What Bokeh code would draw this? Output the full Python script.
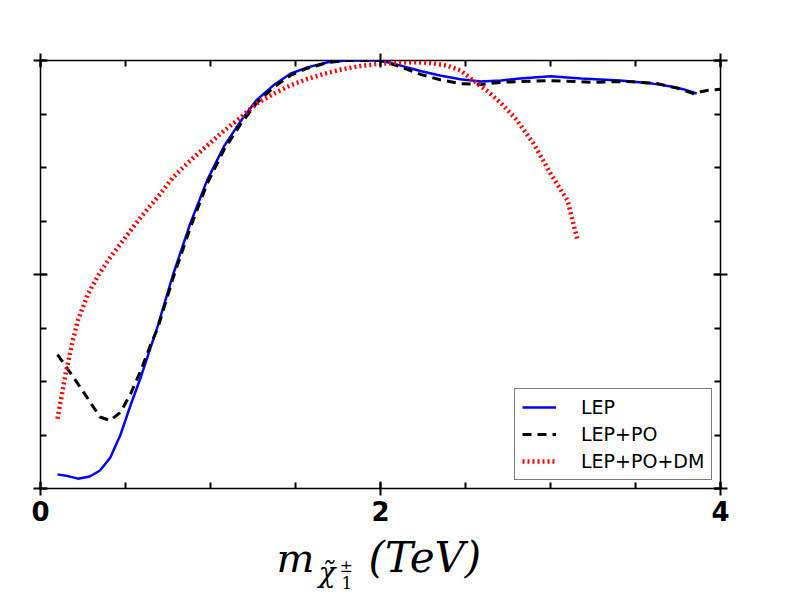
from bokeh.plotting import figure
from bokeh.models import (Range1d, LinearAxis, FixedTicker, Legend, LegendItem, Label)
from bokeh.layouts import column
from bokeh.embed import file_html
from bokeh.resources import INLINE

# ---- data ----
lep_x = [0.10, 0.15, 0.22, 0.29, 0.35, 0.41, 0.47, 0.53, 0.59, 0.69, 0.78, 0.88, 0.98, 1.08, 1.18,
         1.27, 1.37, 1.47, 1.57, 1.69, 1.80, 1.90, 2.00, 2.12, 2.24, 2.35, 2.47, 2.59, 2.71, 2.82,
         3.00, 3.18, 3.41, 3.60, 3.70, 3.78, 3.86]
lep_y = [0.033, 0.030, 0.023, 0.028, 0.042, 0.072, 0.125, 0.195, 0.260, 0.380, 0.500, 0.618, 0.720,
         0.800, 0.860, 0.907, 0.942, 0.969, 0.984, 0.996, 1.000, 1.000, 1.000, 0.988, 0.975, 0.965,
         0.956, 0.951, 0.953, 0.958, 0.963, 0.958, 0.953, 0.946, 0.940, 0.933, 0.923]

po_x = [0.10, 0.18, 0.26, 0.35, 0.41, 0.47, 0.53, 0.59, 0.65, 0.69, 0.78, 0.88, 0.98, 1.08, 1.18,
        1.27, 1.37, 1.47, 1.57, 1.69, 1.80, 1.90, 2.00, 2.12, 2.24, 2.35, 2.47, 2.59, 2.71, 2.82,
        3.00, 3.25, 3.45, 3.63, 3.75, 3.84, 3.92, 4.00]
po_y = [0.313, 0.268, 0.221, 0.167, 0.159, 0.178, 0.221, 0.276, 0.338, 0.375, 0.492, 0.608, 0.712,
        0.792, 0.853, 0.900, 0.937, 0.965, 0.982, 0.995, 1.000, 1.000, 1.000, 0.985, 0.967, 0.955,
        0.946, 0.944, 0.949, 0.951, 0.953, 0.949, 0.951, 0.946, 0.935, 0.923, 0.930, 0.933]

dm_x = [0.10, 0.15, 0.19, 0.22, 0.28, 0.34, 0.41, 0.50, 0.59, 0.69, 0.78, 0.88, 0.98, 1.08, 1.18,
        1.27, 1.37, 1.47, 1.57, 1.67, 1.77, 1.88, 1.98, 2.10, 2.22, 2.30, 2.39, 2.47, 2.55, 2.63,
        2.71, 2.80, 2.90, 3.00, 3.10, 3.16]
dm_y = [0.163, 0.272, 0.346, 0.393, 0.455, 0.498, 0.540, 0.587, 0.634, 0.681, 0.727, 0.766, 0.801,
        0.836, 0.868, 0.899, 0.922, 0.942, 0.957, 0.969, 0.979, 0.987, 0.992, 0.995, 0.996, 0.994,
        0.988, 0.977, 0.952, 0.928, 0.900, 0.862, 0.806, 0.736, 0.673, 0.579]

series_names = ["LEP", "LEP+PO", "LEP+PO+DM"]
x_major = [0, 2, 4]
x_minor = [0, 0.5, 1, 1.5, 2, 2.5, 3, 3.5, 4]
y_major = [0, 0.5, 1]
y_minor = [0, 0.125, 0.25, 0.375, 0.5, 0.625, 0.75, 0.875, 1]

W = 792
H_MAIN = 532
H_TITLE = 60

p = figure(width=W, height=H_MAIN, output_backend="svg", toolbar_location=None,
           x_range=Range1d(0, 4), y_range=Range1d(0, 1),
           x_axis_location=None, y_axis_location=None,
           min_border_left=40, min_border_right=72, min_border_top=60, min_border_bottom=44)
p.background_fill_color = "white"
p.border_fill_color = "white"
p.outline_line_color = "black"
p.outline_line_width = 1.5
p.xgrid.visible = False
p.ygrid.visible = False

def style_axis(ax, labels):
    ax.axis_line_color = None
    ax.major_tick_in = 7
    ax.major_tick_out = 7
    ax.minor_tick_in = 6
    ax.minor_tick_out = 0
    ax.major_tick_line_width = 2
    ax.minor_tick_line_width = 2
    ax.major_tick_line_color = "black"
    ax.minor_tick_line_color = "black"
    if not labels:
        ax.major_label_text_font_size = "0px"
        ax.major_label_standoff = 0

bottom = LinearAxis(ticker=FixedTicker(ticks=x_major, minor_ticks=x_minor))
style_axis(bottom, True)
bottom.major_label_text_font = "DejaVu Sans"
bottom.major_label_text_font_style = "bold"
bottom.major_label_text_font_size = "26px"
bottom.major_label_text_color = "black"
bottom.major_label_standoff = 5
p.add_layout(bottom, "below")

top = LinearAxis(ticker=FixedTicker(ticks=x_major, minor_ticks=x_minor),
                 major_label_overrides={t: "" for t in x_major})
style_axis(top, False)
p.add_layout(top, "above")

left = LinearAxis(ticker=FixedTicker(ticks=y_major, minor_ticks=y_minor),
                  major_label_overrides={t: "" for t in y_major})
style_axis(left, False)
p.add_layout(left, "left")

right = LinearAxis(ticker=FixedTicker(ticks=y_major, minor_ticks=y_minor),
                   major_label_overrides={t: "" for t in y_major})
style_axis(right, False)
p.add_layout(right, "right")

r1 = p.line(lep_x, lep_y, line_color="#0000ff", line_width=2.5)
r2 = p.line(po_x, po_y, line_color="black", line_width=3, line_dash="9 6")
r3 = p.line(dm_x, dm_y, line_color="#ff0000", line_width=4.5, line_dash="2 3")

legend = Legend(items=[LegendItem(label=series_names[0], renderers=[r1]),
                       LegendItem(label=series_names[1], renderers=[r2]),
                       LegendItem(label=series_names[2], renderers=[r3])],
                location=(474, 8))
legend.border_line_color = "black"
legend.border_line_width = 1
legend.background_fill_color = "white"
legend.background_fill_alpha = 1
legend.label_text_font = "DejaVu Sans"
legend.label_text_font_size = "19px"
legend.label_text_color = "black"
legend.glyph_width = 34
legend.glyph_height = 20
legend.label_height = 20
legend.spacing = 5
legend.padding = 7
legend.margin = 0
legend.label_standoff = 25
p.add_layout(legend, "center")

# ---- x-axis title m_{chi~_1^±}(TeV), drawn as real text in a strip below ----
# the strip's frame is aligned with the main frame (pixels 40..720); y measured down from strip top
t = figure(width=W, height=H_TITLE, output_backend="svg", toolbar_location=None,
           x_range=Range1d(40, 720), y_range=Range1d(H_TITLE, 0),
           x_axis_location=None, y_axis_location=None,
           min_border_left=0, min_border_right=0, min_border_top=0, min_border_bottom=0)
t.outline_line_color = None
t.xgrid.visible = False
t.ygrid.visible = False
t.background_fill_color = "white"
t.border_fill_color = "white"

serif = "DejaVu Serif"
def lab(x, y, s, size, italic=True):
    t.add_layout(Label(x=x, y=y, text=s, text_font=serif,
                       text_font_style="italic" if italic else "normal",
                       text_font_size=size, text_baseline="middle", text_align="left",
                       text_color="black"))

lab(276, 25.0, "m", "40px")
lab(318, 39.5, "\u03c7\u0303", "28px")
lab(339, 33.5, "\u00b1", "16px", italic=False)
lab(341, 50.0, "1", "17px", italic=False)
lab(368, 25.0, "(TeV)", "42px")

layout = column(p, t, spacing=0)
open("out.html", "w").write(file_html(layout, INLINE))
